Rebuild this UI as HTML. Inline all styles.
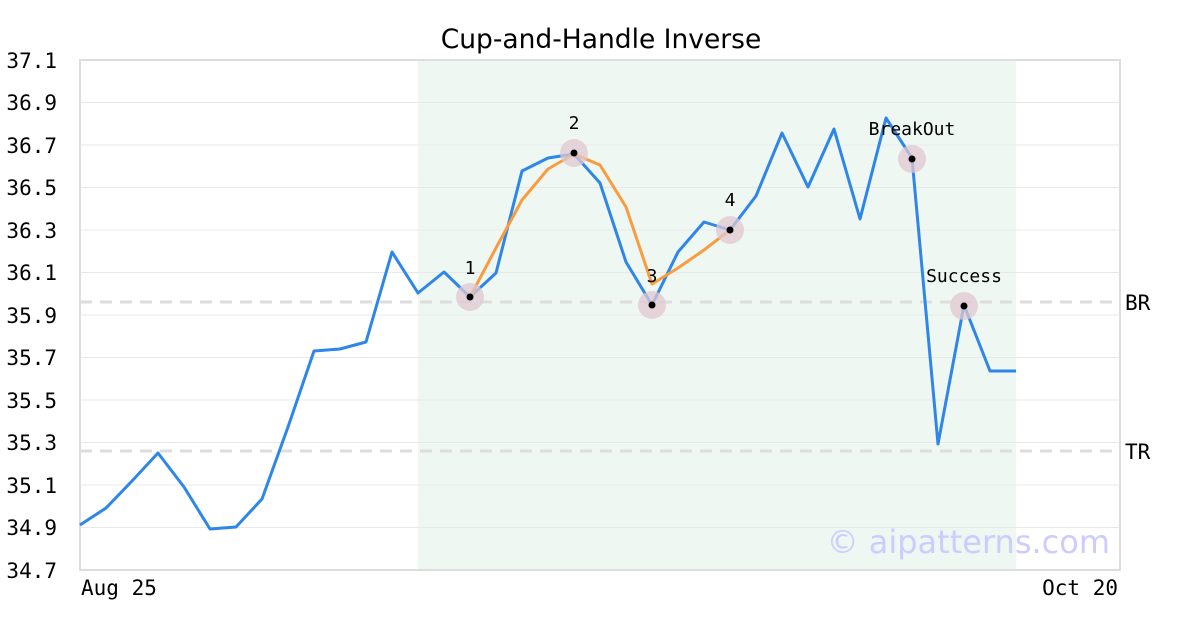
<!DOCTYPE html>
<html><head><meta charset="utf-8"><style>body{margin:0;background:#fff}svg{display:block}</style></head><body>
<svg width="1200" height="630" xmlns="http://www.w3.org/2000/svg" font-family="DejaVu Sans Mono, monospace">
<rect width="1200" height="630" fill="#fff"/>
<rect x="418" y="60" width="598" height="510" fill="#eff7f3"/>
<g stroke="#e8e8e8" stroke-width="1">
<line x1="80" x2="1120" y1="102.5" y2="102.5"/><line x1="80" x2="1120" y1="145" y2="145"/><line x1="80" x2="1120" y1="187.5" y2="187.5"/><line x1="80" x2="1120" y1="230" y2="230"/><line x1="80" x2="1120" y1="272.5" y2="272.5"/><line x1="80" x2="1120" y1="315" y2="315"/><line x1="80" x2="1120" y1="357.5" y2="357.5"/><line x1="80" x2="1120" y1="400" y2="400"/><line x1="80" x2="1120" y1="442.5" y2="442.5"/><line x1="80" x2="1120" y1="485" y2="485"/><line x1="80" x2="1120" y1="527.5" y2="527.5"/>
</g>
<g stroke="#dddddd" stroke-width="3" stroke-dasharray="12,8"><line x1="80" x2="1120" y1="302" y2="302"/><line x1="80" x2="1120" y1="451" y2="451"/></g>
<rect x="80" y="60" width="1040" height="510" fill="none" stroke="#dddddd" stroke-width="2"/>
<text x="601" y="48" font-family="DejaVu Sans, sans-serif" font-size="26.5" text-anchor="middle">Cup-and-Handle Inverse</text>
<g font-size="21" text-anchor="end" fill="#000">
<text x="57" y="68">37.1</text><text x="57" y="110">36.9</text><text x="57" y="153">36.7</text><text x="57" y="195">36.5</text><text x="57" y="238">36.3</text><text x="57" y="280">36.1</text><text x="57" y="323">35.9</text><text x="57" y="365">35.7</text><text x="57" y="408">35.5</text><text x="57" y="450">35.3</text><text x="57" y="493">35.1</text><text x="57" y="535">34.9</text><text x="57" y="578">34.7</text>
</g>
<text x="81" y="595" font-size="21">Aug 25</text><text x="1118" y="595" font-size="21" text-anchor="end">Oct 20</text>
<text x="1125" y="310" font-size="21">BR</text><text x="1125" y="459" font-size="21">TR</text>
<text x="1110" y="553" font-family="DejaVu Sans, sans-serif" font-size="32" fill="#ccccff" text-anchor="end">© aipatterns.com</text>
<polyline fill="none" stroke="#2e86e8" stroke-width="3" stroke-linejoin="round" points="80,525 106,508 132,481 158,453 184,487 210,529 236,527 262,499 288,427 314,351 340,349 366,342 392,252 418,293 444,272 470,297 496,273 522,171 548,158 574,154 600,183 626,262 652,305 678,252 704,222 730,230 756,196 782,133 808,187 834,129 860,219 886,118 912,158 938,444 964,305 990,371 1016,371"/>
<polyline fill="none" stroke="#f89c40" stroke-width="3" stroke-linejoin="round" points="470,297 496,248 522,200 548,169 574,154 600,165 626,207 652,284 678,268 704,250 730,230"/>
<g fill="#e0c8d2" fill-opacity="0.75"><circle cx="470" cy="297" r="14"/><circle cx="574" cy="153" r="14"/><circle cx="652" cy="305" r="14"/><circle cx="730" cy="230" r="14"/><circle cx="912" cy="159" r="14"/><circle cx="964" cy="306" r="14"/></g>
<g fill="#000"><circle cx="470" cy="297" r="3.5"/><circle cx="574" cy="153" r="3.5"/><circle cx="652" cy="305" r="3.5"/><circle cx="730" cy="230" r="3.5"/><circle cx="912" cy="159" r="3.5"/><circle cx="964" cy="306" r="3.5"/></g>
<g font-size="18" text-anchor="middle"><text x="470" y="274">1</text><text x="574" y="129">2</text><text x="652" y="282">3</text><text x="730" y="206">4</text><text x="912" y="135">BreakOut</text><text x="964" y="282">Success</text></g>
</svg>
</body></html>
